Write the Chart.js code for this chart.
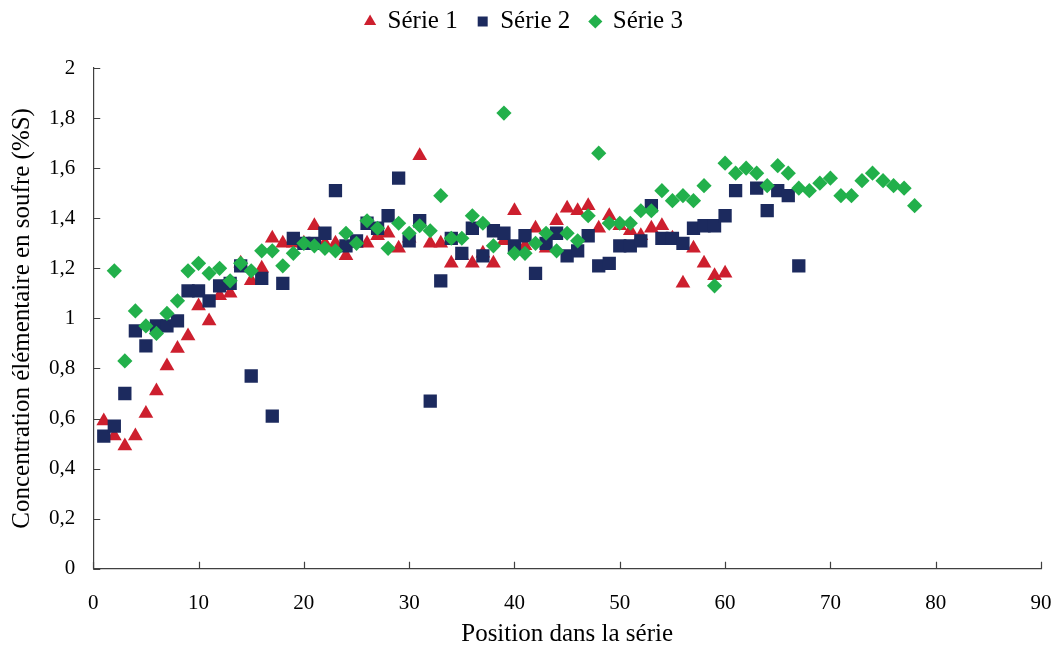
<!DOCTYPE html>
<html>
<head>
<meta charset="utf-8">
<script src="https://cdn.jsdelivr.net/npm/chart.js@4/dist/chart.umd.min.js"></script>
<style>
  body { margin: 0; background: #fff; }
</style>
</head>
<body>
<canvas id="myChart" width="1056" height="646"></canvas>
<script>
// values, position in the series -> %S
const serie1X = [];
for (let i = 1; i <= 60; i++) serie1X.push(i);
const serie1Y = [0.59, 0.53, 0.49, 0.53, 0.62, 0.71, 0.81, 0.88, 0.93, 1.05,
                 0.99, 1.09, 1.10, 1.22, 1.15, 1.20, 1.32, 1.30, 1.30, 1.30,
                 1.37, 1.30, 1.30, 1.25, 1.30, 1.30, 1.33, 1.34, 1.28, 1.32,
                 1.65, 1.30, 1.30, 1.22, 1.25, 1.22, 1.26, 1.22, 1.31, 1.43,
                 1.29, 1.36, 1.28, 1.39, 1.44, 1.43, 1.45, 1.36, 1.41, 1.37,
                 1.35, 1.33, 1.36, 1.37, 1.32, 1.14, 1.28, 1.22, 1.17, 1.18];

const serie2X = [];
for (let i = 1; i <= 61; i++) serie2X.push(i);
serie2X.push(63, 64, 65, 66, 67);
const serie2Y = [0.53, 0.57, 0.70, 0.95, 0.89, 0.97, 0.97, 0.99, 1.11, 1.11,
                 1.07, 1.13, 1.14, 1.21, 0.77, 1.16, 0.61, 1.14, 1.32, 1.30,
                 1.30, 1.34, 1.51, 1.29, 1.31, 1.38, 1.36, 1.41, 1.56, 1.31,
                 1.39, 0.67, 1.15, 1.32, 1.26, 1.36, 1.25, 1.35, 1.34, 1.29,
                 1.33, 1.18, 1.30, 1.34, 1.25, 1.27, 1.33, 1.21, 1.22, 1.29,
                 1.29, 1.31, 1.45, 1.32, 1.32, 1.30, 1.36, 1.37, 1.37, 1.41,
                 1.51, 1.52, 1.43, 1.51, 1.49, 1.21];

const serie3X = [];
for (let i = 2; i <= 78; i++) serie3X.push(i);
const serie3Y = [1.19, 0.83, 1.03, 0.97, 0.94, 1.02, 1.07, 1.19, 1.22, 1.18,
                 1.20, 1.15, 1.22, 1.19, 1.27, 1.27, 1.21, 1.26, 1.30, 1.29,
                 1.28, 1.27, 1.34, 1.30, 1.39, 1.36, 1.28, 1.38, 1.34, 1.37,
                 1.35, 1.49, 1.32, 1.32, 1.41, 1.38, 1.29, 1.82, 1.26, 1.26,
                 1.30, 1.34, 1.27, 1.34, 1.31, 1.41, 1.66, 1.38, 1.38, 1.38,
                 1.43, 1.43, 1.51, 1.47, 1.49, 1.47, 1.53, 1.13, 1.62, 1.58,
                 1.60, 1.58, 1.53, 1.61, 1.58, 1.52, 1.51, 1.54, 1.56, 1.49,
                 1.49, 1.55, 1.58, 1.55, 1.53, 1.52, 1.45];

const seriesNames = ['Série 1', 'Série 2', 'Série 3'];
const xTicks = [0, 10, 20, 30, 40, 50, 60, 70, 80, 90];
const yTicks = [0, 0.2, 0.4, 0.6, 0.8, 1, 1.2, 1.4, 1.6, 1.8, 2];

function toPoints(xs, ys) {
    return xs.map((x, i) => ({ x: x, y: ys[i] }));
}

// small tick marks pointing into the plot, like the original
const innerTicks = {
    id: 'innerTicks',
    afterDraw(chart) {
        const ctx = chart.ctx;
        const area = chart.chartArea;
        ctx.save();
        ctx.strokeStyle = '#404040';
        ctx.lineWidth = 1.2;
        ctx.beginPath();
        chart.scales.y.ticks.forEach(t => {
            const py = Math.round(chart.scales.y.getPixelForValue(t.value)) + 0.5;
            ctx.moveTo(area.left, py);
            ctx.lineTo(area.left + 7, py);
        });
        chart.scales.x.ticks.forEach(t => {
            const px = Math.round(chart.scales.x.getPixelForValue(t.value)) + 0.5;
            ctx.moveTo(px, area.bottom);
            ctx.lineTo(px, area.bottom - 7);
        });
        ctx.stroke();
        ctx.restore();
    }
};

// extra room under the legend
const legendGap = {
    id: 'legendGap',
    beforeInit(chart) {
        const fit = chart.legend.fit;
        chart.legend.fit = function () {
            fit.bind(this)();
            this.height += 24;
        };
    }
};

const serif = 'Liberation Serif';

var ctx = document.getElementById('myChart').getContext('2d');
var myChart = new Chart(ctx, {
    type: 'scatter',
    data: {
        datasets: [{
            label: seriesNames[0],
            data: toPoints(serie1X, serie1Y),
            pointStyle: 'triangle',
            pointRadius: 8.5,
            backgroundColor: '#cd1f2e',
            borderColor: '#cd1f2e',
            borderWidth: 0,
            order: 2
        }, {
            label: seriesNames[1],
            data: toPoints(serie2X, serie2Y),
            pointStyle: 'rect',
            pointRadius: 9.4,
            backgroundColor: '#1c2a5e',
            borderColor: '#1c2a5e',
            borderWidth: 0,
            order: 1
        }, {
            label: seriesNames[2],
            data: toPoints(serie3X, serie3Y),
            pointStyle: 'rectRot',
            pointRadius: 7.6,
            backgroundColor: '#22b04b',
            borderColor: '#22b04b',
            borderWidth: 0,
            order: 0
        }]
    },
    options: {
        responsive: false,
        animation: false,
        layout: { padding: { top: -11, left: 7, right: 15, bottom: 0 } },
        plugins: {
            legend: {
                position: 'top',
                labels: {
                    usePointStyle: true,
                    boxWidth: 10,
                    boxHeight: 10,
                    padding: 20,
                    color: '#000',
                    font: { family: serif, size: 25 },
                    sort: (a, b) => a.datasetIndex - b.datasetIndex
                }
            },
            tooltip: { enabled: false }
        },
        scales: {
            x: {
                type: 'linear',
                min: 0,
                max: 90,
                afterBuildTicks: axis => { axis.ticks = xTicks.map(v => ({ value: v })); },
                // the label padding should not widen the side margins
                afterFit: axis => { axis.paddingLeft = 0; axis.paddingRight = 0; },
                grid: { drawOnChartArea: false, drawTicks: false },
                border: { color: '#404040', width: 1.2 },
                ticks: {
                    color: '#000',
                    padding: 22,
                    font: { family: serif, size: 21 }
                },
                title: {
                    display: true,
                    text: 'Position dans la série',
                    color: '#000',
                    font: { family: serif, size: 25 },
                    padding: { top: -19, bottom: -3 }
                }
            },
            y: {
                type: 'linear',
                min: 0,
                max: 2,
                afterBuildTicks: axis => { axis.ticks = yTicks.map(v => ({ value: v })); },
                grid: { drawOnChartArea: false, drawTicks: false },
                border: { color: '#404040', width: 1.2 },
                ticks: {
                    color: '#000',
                    padding: 18,
                    font: { family: serif, size: 21 },
                    callback: v => String(Math.round(v * 10) / 10).replace('.', ',')
                },
                title: {
                    display: true,
                    text: 'Concentration élémentaire en soufre (%S)',
                    color: '#000',
                    font: { family: serif, size: 25 },
                    padding: { top: 0, bottom: -6 }
                }
            }
        }
    },
    plugins: [innerTicks, legendGap]
});
</script>
</body>
</html>
